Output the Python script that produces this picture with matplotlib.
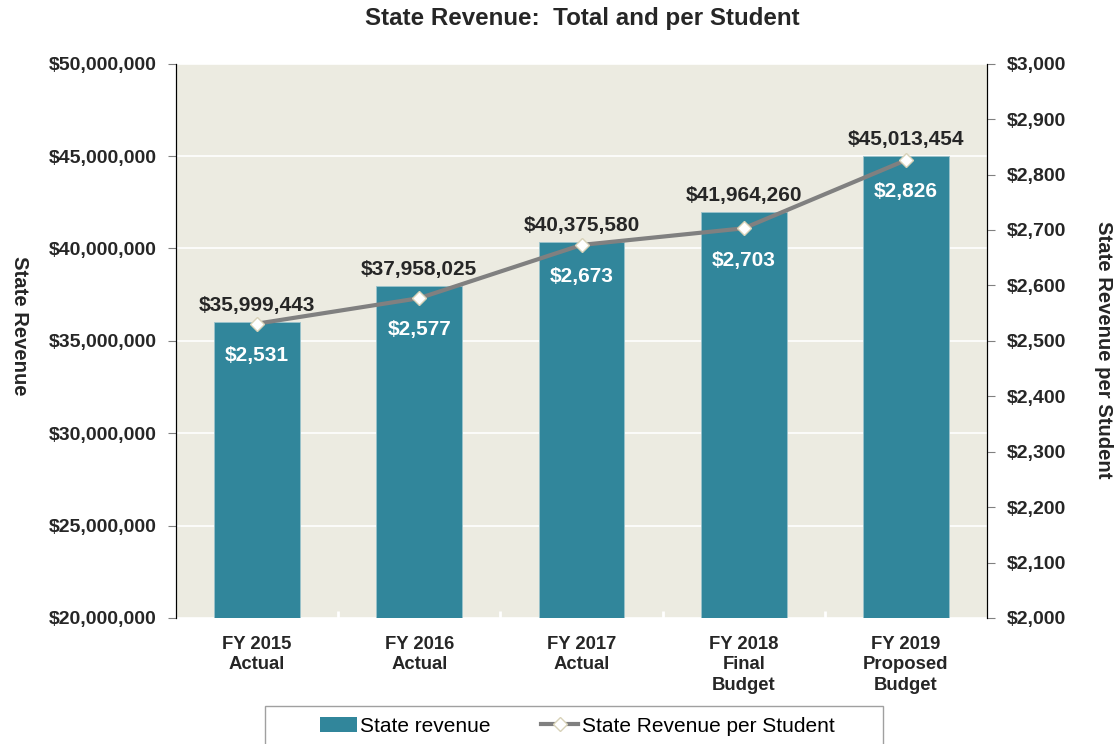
import matplotlib.pyplot as plt
from matplotlib.lines import Line2D
from matplotlib.patches import Patch, Rectangle

plt.rcParams['font.family'] = ['Liberation Sans', 'DejaVu Sans']

# data
categories = ["FY 2015\nActual", "FY 2016\nActual", "FY 2017\nActual",
              "FY 2018\nFinal\nBudget", "FY 2019\nProposed\nBudget"]
state_revenue = [35999443, 37958025, 40375580, 41964260, 45013454]
per_student = [2531, 2577, 2673, 2703, 2826]

bar_color = "#31869b"
bg_color = "#ecebe1"
text_color = "#262626"

fig = plt.figure(figsize=(11.14, 7.44), dpi=100)
ax = fig.add_axes([0.158, 0.1694, 0.728, 0.745])
ax2 = ax.twinx()

x = list(range(len(categories)))

# bars on the left axis
ax.set_facecolor(bg_color)
ax.bar(x, state_revenue, width=0.53, color=bar_color, edgecolor='#9cc3cc', linewidth=0.6, zorder=2)
ax.set_ylim(20000000, 50000000)
ax.set_xlim(-0.5, len(categories) - 0.5)
ax.set_yticks(range(20000000, 50000001, 5000000))
ax.yaxis.set_major_formatter(plt.FuncFormatter(lambda v, p: "${:,.0f}".format(v)))
ax.grid(axis='y', color='white', linewidth=1.2, zorder=1)
ax.set_axisbelow(True)

for xi, v in zip(x, state_revenue):
    ax.annotate("${:,.0f}".format(v), (xi, v), xytext=(0, 5), textcoords='offset points',
                ha='center', va='bottom', fontsize=15, fontweight='bold', color=text_color)

# line on the right axis
ax2.plot(x, per_student, color='#808080', linewidth=3, marker='D', markersize=7,
         markerfacecolor='white', markeredgecolor='#d8d2b8', markeredgewidth=1, zorder=5)
ax2.set_ylim(2000, 3000)
ax2.set_yticks(range(2000, 3001, 100))
ax2.yaxis.set_major_formatter(plt.FuncFormatter(lambda v, p: "${:,.0f}".format(v)))

for xi, v in zip(x, per_student):
    ax2.annotate("${:,.0f}".format(v), (xi, v), xytext=(0, -16), textcoords='offset points',
                 ha='center', va='top', fontsize=15, fontweight='bold', color='white')

# ticks and spines
ax.set_xticks(x)
ax.set_xticklabels(categories, fontsize=13.3, fontweight='bold', color=text_color, linespacing=1.25)
ax.tick_params(axis='x', length=0, pad=13)
ax.set_xticks([i + 0.5 for i in x[:-1]], minor=True)
ax.tick_params(axis='x', which='minor', direction='in', length=5, color='white', width=2)
ax.tick_params(axis='y', length=6, color='#808080', labelsize=14, pad=8)
for lab in ax.get_yticklabels():
    lab.set_fontweight('bold')
    lab.set_color(text_color)
ax2.tick_params(axis='y', length=6, color='#808080', labelsize=14, pad=8)
for lab in ax2.get_yticklabels():
    lab.set_fontweight('bold')
    lab.set_color(text_color)

for a in (ax, ax2):
    a.spines['top'].set_visible(False)
    a.spines['bottom'].set_visible(False)
    a.spines['left'].set_color('black')
    a.spines['right'].set_color('black')

fig.text(19 / 1114, 1 - 326 / 744, "State Revenue", rotation=270, ha='center', va='center',
         fontsize=14.6, fontweight='bold', color=text_color)
fig.text(1104 / 1114, 1 - 350 / 744, "State Revenue per Student", rotation=270, ha='center',
         va='center', fontsize=14.6, fontweight='bold', color=text_color)

fig.text(0.523, 1 - 18 / 744, "State Revenue:  Total and per Student", ha='center', va='center',
         fontsize=17.4, fontweight='bold', color=text_color)

# legend: frame drawn separately so it can be wider than the entries
fig.patches.append(Rectangle((265 / 1114, -0.01), (883 - 265) / 1114, (744 - 706) / 744 + 0.01,
                             transform=fig.transFigure, facecolor='white', edgecolor='#a0a0a0',
                             linewidth=1, zorder=0))
handles = [Patch(facecolor=bar_color, label="State revenue"),
           Line2D([0], [0], color='#808080', linewidth=3, marker='D', markersize=7,
                  markerfacecolor='white', markeredgecolor='#d8d2b8', label="State Revenue per Student")]
leg = fig.legend(handles=handles, loc='center', bbox_to_anchor=(577 / 1114, 1 - 726 / 744), ncol=2,
                 fontsize=15, frameon=False, handlelength=1.8, handletextpad=0.15,
                 columnspacing=2.4, borderpad=0)

fig.savefig("out.png", dpi=100)
